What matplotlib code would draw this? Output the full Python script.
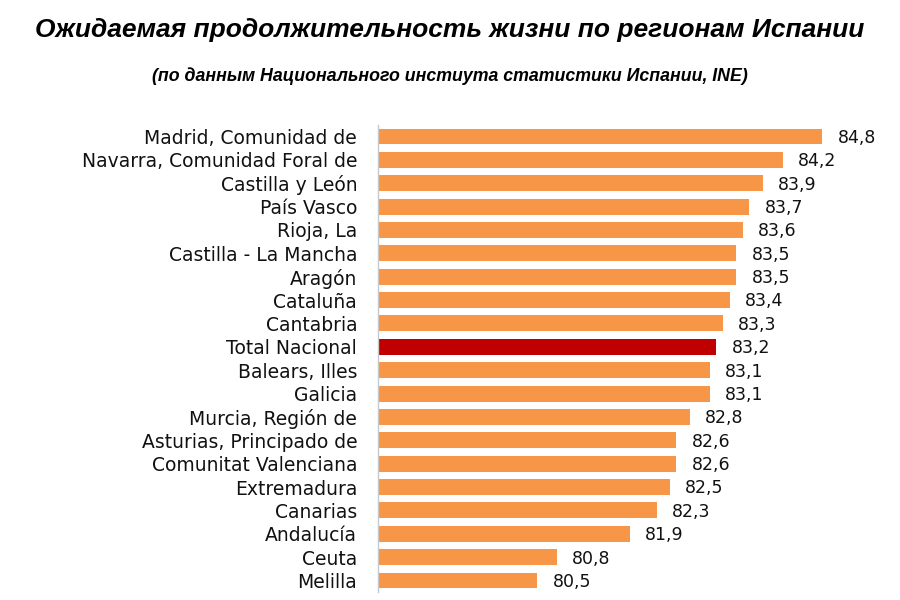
import matplotlib.pyplot as plt

regions = ['Madrid, Comunidad de', 'Navarra, Comunidad Foral de', 'Castilla y León', 'País Vasco',
           'Rioja, La', 'Castilla - La Mancha', 'Aragón', 'Cataluña', 'Cantabria', 'Total Nacional',
           'Balears, Illes', 'Galicia', 'Murcia, Región de', 'Asturias, Principado de',
           'Comunitat Valenciana', 'Extremadura', 'Canarias', 'Andalucía', 'Ceuta', 'Melilla']
life_exp = [84.8, 84.2, 83.9, 83.7, 83.6, 83.5, 83.5, 83.4, 83.3, 83.2,
            83.1, 83.1, 82.8, 82.6, 82.6, 82.5, 82.3, 81.9, 80.8, 80.5]

title = 'Ожидаемая продолжительность жизни по регионам Испании'
subtitle = '(по данным Национального инстиута статистики Испании, INE)'

orange = '#F79646'
dark_red = '#C00000'
colors = [dark_red if r == 'Total Nacional' else orange for r in regions]

fig = plt.figure(figsize=(9, 6), dpi=100)
ax = fig.add_axes([0.42, 0.013, 0.58, 0.779])

ypos = list(range(len(regions)))
ax.barh(ypos, life_exp, height=0.68, color=colors, left=0)
ax.set_xlim(78.1, 85.97)
ax.set_ylim(len(regions) - 0.5, -0.5)

# value labels with comma decimals
for y, v in zip(ypos, life_exp):
    ax.annotate(f'{v:.1f}'.replace('.', ','), (v, y), xytext=(11, -1), textcoords='offset points',
                va='center', ha='left', fontsize=12.5, family='DejaVu Sans', color='#111111')

ax.set_yticks(ypos)
ax.set_yticklabels(regions, fontsize=13.5, family='DejaVu Sans', color='#111111')
ax.tick_params(axis='y', length=0, pad=15)
ax.set_xticks([])

for s in ['top', 'right', 'bottom']:
    ax.spines[s].set_visible(False)
ax.spines['left'].set_color('#C8C8C8')
ax.spines['left'].set_linewidth(1)

fig.text(0.5, 0.95, title, ha='center', va='center', fontsize=19, fontweight='bold', style='italic',
         family='Liberation Sans')
fig.text(0.5, 0.873, subtitle, ha='center', va='center', fontsize=12.8, fontweight='bold', style='italic',
         family='Liberation Sans')

plt.savefig('out.png', dpi=100)
plt.close()
